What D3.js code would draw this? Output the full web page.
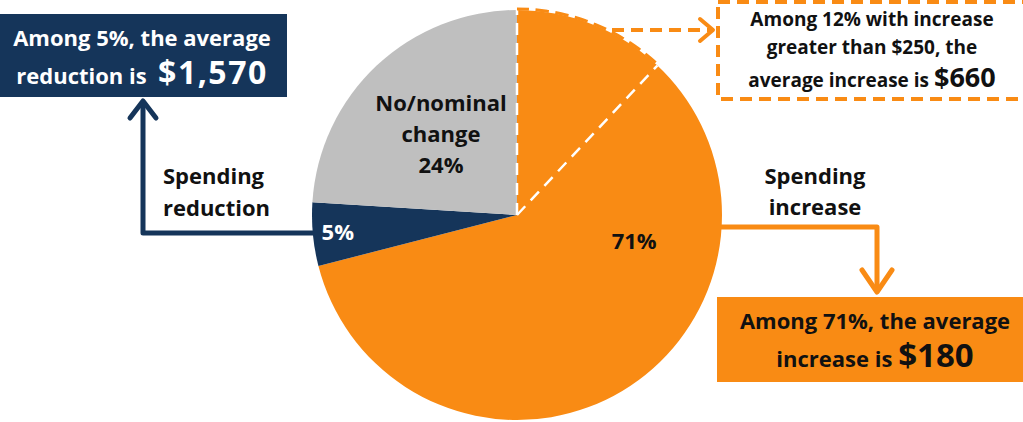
<!DOCTYPE html>
<html><head><meta charset="utf-8">
<script src="https://cdn.jsdelivr.net/npm/d3@7"></script>
<style>body{margin:0;background:#fff}svg{display:block}text{font-family:"Open Sans",Lato,sans-serif;font-weight:700}</style>
</head><body><svg id="c" width="1023" height="422"></svg>
<script>
// ---- data ----
const categories = ["Spending increase", "Spending reduction", "No/nominal change"];
const shares = [71, 5, 24];
const sliceLabels = ["71%", "5%", "No/nominal|change|24%"];
const subShare = 12;               // share with increase greater than $250
const reductionNote = ["Among 5%, the average", "reduction is\u00a0\u00a0", "$1,570"];
const increaseNote = ["Among 71%, the average", "increase is ", "$180"];
const bigIncreaseNote = ["Among 12% with increase", "greater than $250, the", "average increase is ", "$660"];

const ORANGE = "#f98b14", NAVY = "#15355a", GRAY = "#bfbfbf";
const colors = [ORANGE, NAVY, GRAY];

const svg = d3.select("#c");
const cx = 517, cy = 215, R = 205;
const g = svg.append("g").attr("transform", `translate(${cx},${cy})`);

const pie = d3.pie().sort(null).value(d => d);
const arcs = pie(shares);
const arc = d3.arc().innerRadius(0).outerRadius(R);

g.selectAll("path.slice").data(arcs).join("path")
  .attr("class", "slice").attr("d", arc).attr("fill", (d, i) => colors[i]);

// sub-slice (12%) outline
const subEnd = 2 * Math.PI * subShare / 100;
const polar = (a, r) => [r * Math.sin(a), -r * Math.cos(a)];
[0, subEnd].forEach(a => {
  const p = polar(a, R);
  g.append("line").attr("x1", 0).attr("y1", 0).attr("x2", p[0]).attr("y2", p[1])
    .attr("stroke", "#fff").attr("stroke-width", 2.5).attr("stroke-dasharray", "12,8");
});
g.append("path").attr("d", d3.arc().innerRadius(R + 1).outerRadius(R + 1)({startAngle: 0, endAngle: subEnd}))
  .attr("fill", "none").attr("stroke", ORANGE).attr("stroke-width", 3).attr("stroke-dasharray", "12,8");

// slice labels
const labelPos = [
  d3.arc().innerRadius(120).outerRadius(120).centroid({startAngle: 1.79, endAngle: 1.79}),
  d3.arc().innerRadius(180).outerRadius(180).centroid(arcs[1]),
  d3.arc().innerRadius(111).outerRadius(111).centroid(arcs[2])
];
const labelFill = ["#111", "#fff", "#111"];
sliceLabels.forEach((t, i) => {
  const lines = t.split("|");
  const txt = g.append("text").attr("text-anchor", "middle").attr("font-size", 22).attr("fill", labelFill[i]);
  lines.forEach((l, j) => {
    txt.append("tspan").attr("x", labelPos[i][0])
      .attr("y", labelPos[i][1] + (j - (lines.length - 1) / 2) * 31 + 8).text(l);
  });
});

// ---- navy (reduction) annotation ----
svg.append("rect").attr("x", 0).attr("y", 14).attr("width", 287).attr("height", 83).attr("fill", NAVY);
svg.append("text").attr("x", 142).attr("y", 46).attr("text-anchor", "middle").attr("font-size", 22).attr("fill", "#fff").text(reductionNote[0]);
const t2 = svg.append("text").attr("x", 142).attr("y", 84).attr("text-anchor", "middle").attr("fill", "#fff");
t2.append("tspan").attr("font-size", 22).text(reductionNote[1]);
t2.append("tspan").attr("font-size", 32).attr("letter-spacing", 1.5).text(reductionNote[2]);

svg.append("path").attr("d", "M313,233 H143 V103").attr("fill", "none").attr("stroke", NAVY)
  .attr("stroke-width", 5).attr("stroke-linejoin", "round");
svg.append("path").attr("d", "M130,118 L143,101 L156,118").attr("fill", "none").attr("stroke", NAVY)
  .attr("stroke-width", 5).attr("stroke-linecap", "round").attr("stroke-linejoin", "round");
const sr = svg.append("text").attr("x", 163).attr("font-size", 22).attr("fill", "#111");
sr.append("tspan").attr("x", 163).attr("y", 184).text("Spending");
sr.append("tspan").attr("x", 163).attr("y", 216).text("reduction");

// ---- orange (increase) annotation ----
svg.append("path").attr("d", "M718,227 H877 V292").attr("fill", "none").attr("stroke", ORANGE)
  .attr("stroke-width", 5).attr("stroke-linejoin", "round");
svg.append("path").attr("d", "M862,270 L877,292 L892,270").attr("fill", "none").attr("stroke", ORANGE)
  .attr("stroke-width", 5).attr("stroke-linecap", "round").attr("stroke-linejoin", "round");
const si = svg.append("text").attr("text-anchor", "middle").attr("font-size", 22).attr("fill", "#111");
si.append("tspan").attr("x", 815).attr("y", 184).text("Spending");
si.append("tspan").attr("x", 815).attr("y", 215).text("increase");

svg.append("rect").attr("x", 717).attr("y", 297).attr("width", 306).attr("height", 85).attr("fill", ORANGE);
svg.append("text").attr("x", 875).attr("y", 329).attr("text-anchor", "middle").attr("font-size", 22).attr("fill", "#111").text(increaseNote[0]);
const t4 = svg.append("text").attr("x", 875).attr("y", 367).attr("text-anchor", "middle").attr("fill", "#111");
t4.append("tspan").attr("font-size", 22).text(increaseNote[1]);
t4.append("tspan").attr("font-size", 33).text(increaseNote[2]);

// ---- dashed (12%) annotation ----
svg.append("rect").attr("x", 718).attr("y", 2).attr("width", 320).attr("height", 97)
  .attr("fill", "none").attr("stroke", ORANGE).attr("stroke-width", 4).attr("stroke-dasharray", "12,7");
svg.append("path").attr("d", "M612,30 H711").attr("stroke", ORANGE).attr("stroke-width", 4).attr("stroke-dasharray", "12,7");
svg.append("path").attr("d", "M700,19 L713,30 L700,41").attr("fill", "none").attr("stroke", ORANGE)
  .attr("stroke-width", 4).attr("stroke-linecap", "round").attr("stroke-linejoin", "round");
const t5 = svg.append("text").attr("text-anchor", "middle").attr("font-size", 19).attr("fill", "#111");
t5.append("tspan").attr("x", 872).attr("y", 26).text(bigIncreaseNote[0]);
t5.append("tspan").attr("x", 872).attr("y", 54).text(bigIncreaseNote[1]);
const t6 = svg.append("text").attr("x", 872).attr("y", 87).attr("text-anchor", "middle").attr("fill", "#111");
t6.append("tspan").attr("font-size", 19).text(bigIncreaseNote[2]);
t6.append("tspan").attr("font-size", 27).text(bigIncreaseNote[3]);
</script></body></html>
